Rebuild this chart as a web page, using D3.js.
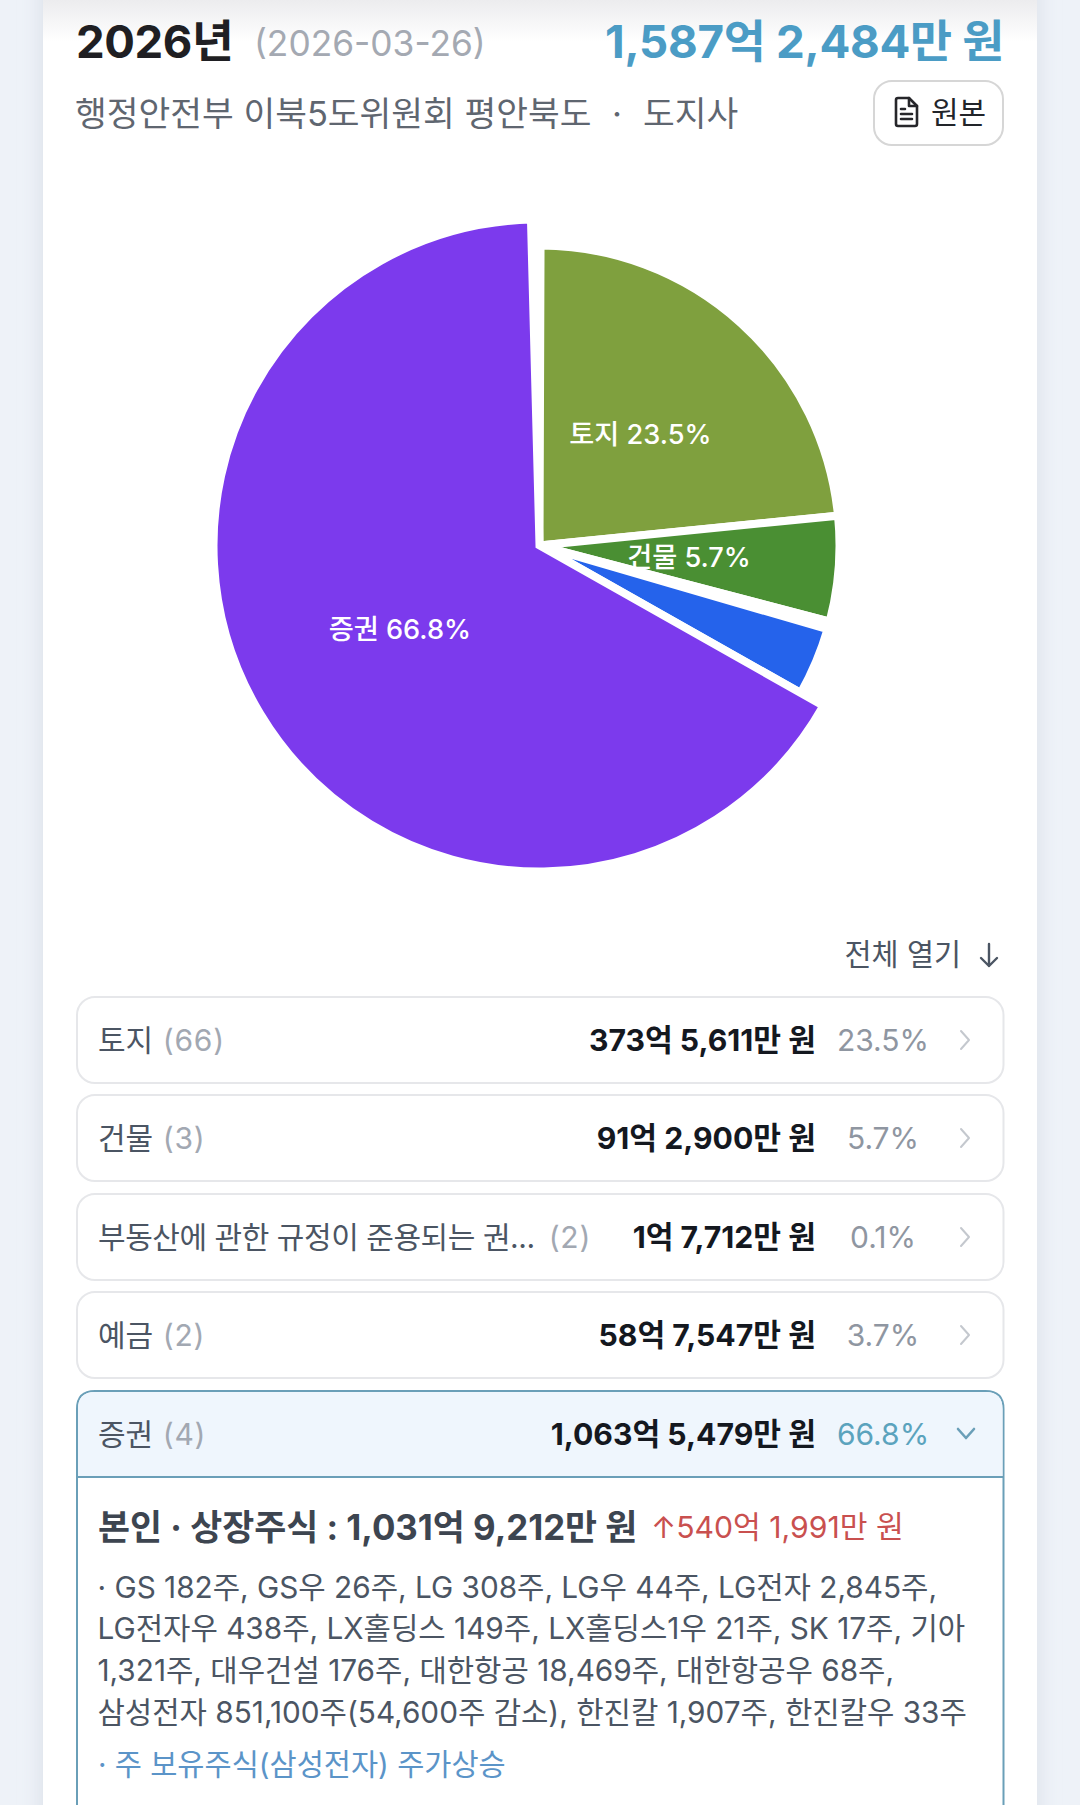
<!DOCTYPE html>
<html lang="ko">
<head>
<meta charset="utf-8">
<title>2026년 재산 구성</title>
<script src="https://cdn.jsdelivr.net/npm/d3@7"></script>
<style>
  html, body { margin: 0; padding: 0; background: #eef2f8; width: 1080px; height: 1805px; overflow: hidden; }
  svg { display: block; }
  text { font-family: Inter, "Noto Sans CJK KR", sans-serif; }
</style>
</head>
<body>
<svg id="chart" width="1080" height="1805"></svg>
<script>
// Asset classes, in the order they run clockwise round the pie
const categories = ["토지", "건물", "부동산에 관한 규정이 준용되는 권...", "예금", "증권"];
const counts = [66, 3, 2, 2, 4];
const amountLabels = ["373억 5,611만 원", "91억 2,900만 원", "1억 7,712만 원", "58억 7,547만 원", "1,063억 5,479만 원"];
const percents = [23.5, 5.7, 0.1, 3.7, 66.8];
const sliceColors = ["#7fa03e", "#4a8f33", "#dc2626", "#2563eb", "#7c3aed"];
const activeIndex = 4;
const labelMinPercent = 5;
const sliceFloorPercent = 0.42;

const detailLines = [
  "· GS 182주, GS우 26주, LG 308주, LG우 44주, LG전자 2,845주,",
  "LG전자우 438주, LX홀딩스 149주, LX홀딩스1우 21주, SK 17주, 기아",
  "1,321주, 대우건설 176주, 대한항공 18,469주, 대한항공우 68주,",
  "삼성전자 851,100주(54,600주 감소), 한진칼 1,907주, 한진칼우 33주"
];

const svg = d3.select("#chart");
const defs = svg.append("defs");

// Card behind everything, with its soft side shadow and the fade under the top edge
const sideShadow = defs.append("filter").attr("id", "cardShadow")
  .attr("x", "-10%").attr("width", "120%").attr("y", "-5%").attr("height", "110%");
sideShadow.append("feGaussianBlur").attr("stdDeviation", 9);
const topFade = defs.append("linearGradient").attr("id", "topFade")
  .attr("x1", 0).attr("x2", 0).attr("y1", 0).attr("y2", 1);
topFade.append("stop").attr("offset", 0).attr("stop-color", "#ececee");
topFade.append("stop").attr("offset", 1).attr("stop-color", "#ffffff");

svg.append("rect").attr("x", 38).attr("y", -30).attr("width", 1003).attr("height", 1880)
  .attr("fill", "#dfe4ec").attr("filter", "url(#cardShadow)");
svg.append("rect").attr("x", 43).attr("y", 0).attr("width", 994).attr("height", 1805).attr("fill", "#fff");
svg.append("rect").attr("x", 43).attr("y", 0).attr("width", 994).attr("height", 42).attr("fill", "url(#topFade)");

function label(x, y, text, size, color, weight, anchor, spacing) {
  return svg.append("text")
    .attr("x", x).attr("y", y)
    .attr("dominant-baseline", "central")
    .attr("text-anchor", anchor || "start")
    .attr("font-size", size)
    .attr("font-weight", weight || 400)
    .attr("letter-spacing", spacing || 0)
    .attr("fill", color)
    .text(text);
}

// Heading
label(76, 41, "2026년", 45.5, "#1f1f23", 700, "start", -0.4);
label(254, 43, "(2026-03-26)", 35.3, "#a4a9b2", 400);
label(1004, 41, "1,587억 2,484만 원", 45.7, "#4b9cc5", 700, "end", -0.3);
label(75, 113, "행정안전부 이북5도위원회 평안북도", 34.5, "#5f6670", 400);
label(612, 113, "·", 34.5, "#5f6670", 400);
label(643, 113, "도지사", 34.5, "#5f6670", 400);

// "원본" button with its document icon
svg.append("rect").attr("x", 874).attr("y", 81).attr("width", 129).attr("height", 64).attr("rx", 18)
  .attr("fill", "#fff").attr("stroke", "#d6d6d6").attr("stroke-width", 2);
const doc = svg.append("g").attr("transform", "translate(895,98)")
  .attr("fill", "none").attr("stroke", "#26262a").attr("stroke-width", 2.6)
  .attr("stroke-linejoin", "round").attr("stroke-linecap", "round");
doc.append("path").attr("d", "M3 0 H14 L22 8 V26 Q22 28 20 28 H3 Q1 28 1 26 V2 Q1 0 3 0 Z");
doc.append("path").attr("d", "M14 0 V8 H22");
doc.append("path").attr("d", "M6 11 H10 M6 16 H17 M6 21 H17");
label(931, 112, "원본", 30, "#22252a", 400);

// Pie: the active slice swells out past the others, tiny slices keep a minimum span,
// and the sweep stops just short of the full turn
const cx = 539.5, cy = 545.5, baseRadius = 300, activeRadius = 326;
const sweepStart = 0.2 * Math.PI / 180;
const sweepEnd = 358.5 * Math.PI / 180;

const pie = d3.pie().sort(null).startAngle(sweepStart).endAngle(sweepEnd)
  .value(d => Math.max(d, sliceFloorPercent));
const slices = pie(percents);

const radiusOf = i => (i === activeIndex ? activeRadius : baseRadius);
const arc = d3.arc().innerRadius(0).outerRadius((d) => radiusOf(d.index));

const pieGroup = svg.append("g").attr("transform", `translate(${cx},${cy})`);
pieGroup.selectAll("path")
  .data(slices)
  .join("path")
  .attr("d", arc)
  .attr("fill", d => sliceColors[d.index])
  .attr("stroke", "#fff")
  .attr("stroke-width", 8);

pieGroup.selectAll("text")
  .data(slices.filter(d => percents[d.index] >= labelMinPercent))
  .join("text")
  .attr("transform", d => `translate(${arc.centroid(d)})`)
  .attr("text-anchor", "middle")
  .attr("dominant-baseline", "central")
  .attr("font-size", 27.2)
  .attr("font-weight", 500)
  .attr("fill", "#fff")
  .text(d => `${categories[d.index]} ${percents[d.index]}%`);

// Expand-all toggle
label(961, 954, "전체 열기", 29.4, "#4b5563", 400, "end");
svg.append("path").attr("d", "M989 944 V966 M981 958 L989 966 L997 958")
  .attr("fill", "none").attr("stroke", "#4b5563").attr("stroke-width", 2.4)
  .attr("stroke-linecap", "round").attr("stroke-linejoin", "round");

// Table of asset classes
const rowTops = [997, 1095, 1194, 1292, 1391];
const rowHeight = 86;
const rowLeft = 77, rowRight = 1003.5;
const activeStroke = "#6a9fb8";

rowTops.forEach((top, i) => {
  const active = i === activeIndex;
  const mid = top + rowHeight / 2;
  if (active) {
    svg.append("path")
      .attr("d", `M${rowLeft} 1830 V${top + 18} Q${rowLeft} ${top} ${rowLeft + 18} ${top} H${rowRight - 18} Q${rowRight} ${top} ${rowRight} ${top + 18} V1830`)
      .attr("fill", "#fff").attr("stroke", activeStroke).attr("stroke-width", 2);
    svg.append("path")
      .attr("d", `M${rowLeft + 1} ${top + 86} V${top + 18} Q${rowLeft + 1} ${top + 1} ${rowLeft + 18} ${top + 1} H${rowRight - 18} Q${rowRight - 1} ${top + 1} ${rowRight - 1} ${top + 18} V${top + 86} Z`)
      .attr("fill", "#eff6fd");
    svg.append("line").attr("x1", rowLeft).attr("x2", rowRight).attr("y1", top + 86).attr("y2", top + 86)
      .attr("stroke", activeStroke).attr("stroke-width", 2);
  } else {
    svg.append("rect").attr("x", rowLeft).attr("y", top).attr("width", rowRight - rowLeft).attr("height", rowHeight)
      .attr("rx", 18).attr("fill", "#fff").attr("stroke", "#e6e7ea").attr("stroke-width", 2);
  }
  // The long truncated name runs a little tighter than the short ones
  const long = categories[i].length > 10;
  const name = label(98, mid, categories[i] + " ", 30, "#4b5563", 400, "start", long ? -0.45 : 0);
  name.append("tspan").attr("fill", "#a2a8b2").attr("dx", long ? 6 : 1).attr("letter-spacing", 0.8).text(`(${counts[i]})`);
  label(816, mid, amountLabels[i], 30.2, "#14181f", 700, "end", 0);
  label(883, mid, percents[i] + "%", 30, active ? "#5ba3bd" : "#8f96a1", 400, "middle");
  const chevron = active ? "M958 1429 L966 1438 L974 1429" : `M961 ${mid - 9} L969 ${mid} L961 ${mid + 9}`;
  svg.append("path").attr("d", chevron).attr("fill", "none")
    .attr("stroke", active ? "#6a9fb8" : "#c4c8ce").attr("stroke-width", active ? 2.6 : 2)
    .attr("stroke-linecap", "round").attr("stroke-linejoin", "round");
});

// Details of the opened row
label(98, 1527, "본인 · 상장주식 : 1,031억 9,212만 원", 34.8, "#3d4550", 700);
label(651, 1527, "↑540억 1,991만 원", 30.2, "#c9504f", 400);
const lineY = [1587, 1628, 1670, 1712];
detailLines.forEach((t, i) => label(97.5, lineY[i], t, 29.75, "#4b5563", 400));
label(98, 1764, "· 주 보유주식(삼성전자) 주가상승", 29.5, "#5b94c8", 400);
</script>
</body>
</html>
